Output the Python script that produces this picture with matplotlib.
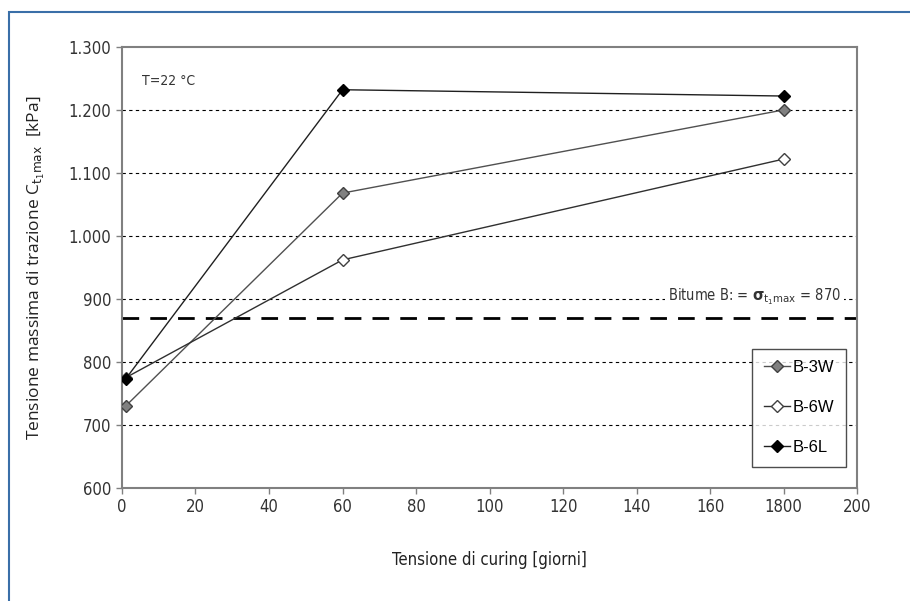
import matplotlib
matplotlib.use('Agg')
import matplotlib.pyplot as plt
from matplotlib.patches import Rectangle

# dati
giorni = [1, 60, 180]
tick_pos = [0, 20, 40, 60, 80, 100, 120, 140, 160, 180, 200]
tick_lab = ['0', '20', '40', '60', '80', '100', '120', '140', '160', '1800', '200']
y_ticks = [600, 700, 800, 900, 1000, 1100, 1200, 1300]
y_lab = ['600', '700', '800', '900', '1.000', '1.100', '1.200', '1.300']

b3w = [730, 1068, 1200]
b6w = [775, 962, 1122]
b6l = [773, 1232, 1222]
bitume = 870

fig = plt.figure(figsize=(9.1, 6.01), dpi=100)
ax = fig.add_axes([0.134, 0.188, 0.808, 0.734])

# cornice blu
fig.patches.append(Rectangle((9 / 910, -0.05), 1.1, 1 - 12 / 601 + 0.05,
                             transform=fig.transFigure, fill=False,
                             edgecolor='#3a6fa8', lw=1.5))

for y in y_ticks[1:-1]:
    ax.axhline(y, color='black', lw=0.8, ls=(0, (3, 3)), zorder=1)

ax.axhline(bitume, color='black', lw=2, ls=(0, (6, 4)), zorder=2)

ax.plot(giorni, b3w, color='#505050', lw=1, marker='D', ms=6.5,
        mfc='#808080', mec='#404040', label='B-3W', zorder=3)
ax.plot(giorni, b6w, color='#303030', lw=1, marker='D', ms=6.5,
        mfc='white', mec='#404040', label='B-6W', zorder=3)
ax.plot(giorni, b6l, color='#202020', lw=1, marker='D', ms=6.5,
        mfc='black', mec='black', label='B-6L', zorder=3)

ax.text(148.5, 903, r'Bitume B: = $\mathbf{\sigma}_{\mathrm{t_1max}}$ = 870',
        fontsize=10.5, color='#333333', va='center', ha='left',
        fontstretch='condensed',
        bbox=dict(facecolor='white', edgecolor='none', pad=2), zorder=2)
ax.text(5.4, 1246, 'T=22 °C', fontsize=10, color='#333333',
        va='center', ha='left', fontstretch='condensed')

ax.set_xlim(0, 200)
ax.set_ylim(600, 1300)
ax.set_xticks(tick_pos)
ax.set_xticklabels(tick_lab, fontsize=12, color='#333333', fontstretch='condensed')
ax.set_yticks(y_ticks)
ax.set_yticklabels(y_lab, fontsize=12, color='#333333', fontstretch='condensed')
ax.tick_params(direction='out', length=4, color='#808080', width=1)

for s in ax.spines.values():
    s.set_color('#808080')
    s.set_linewidth(1.5)

ax.set_xlabel('Tensione di curing [giorni]', fontsize=12, color='#222222',
              labelpad=25, fontstretch='condensed')
ax.set_ylabel(r'Tensione massima di trazione C$_{\mathrm{t_1max}}$  [kPa]',
              fontsize=12.5, family='Open Sans', color='#222222', labelpad=16)

leg = ax.legend(loc='lower right', bbox_to_anchor=(0.985, 0.048),
                prop={'family': 'Liberation Sans', 'size': 12},
                frameon=True, fancybox=False, handlelength=1.6,
                handletextpad=0.15, labelspacing=1.5, borderpad=0.7,
                borderaxespad=0)
leg.get_frame().set_edgecolor('#202020')
leg.get_frame().set_linewidth(1)

fig.savefig('out.png', dpi=100)
